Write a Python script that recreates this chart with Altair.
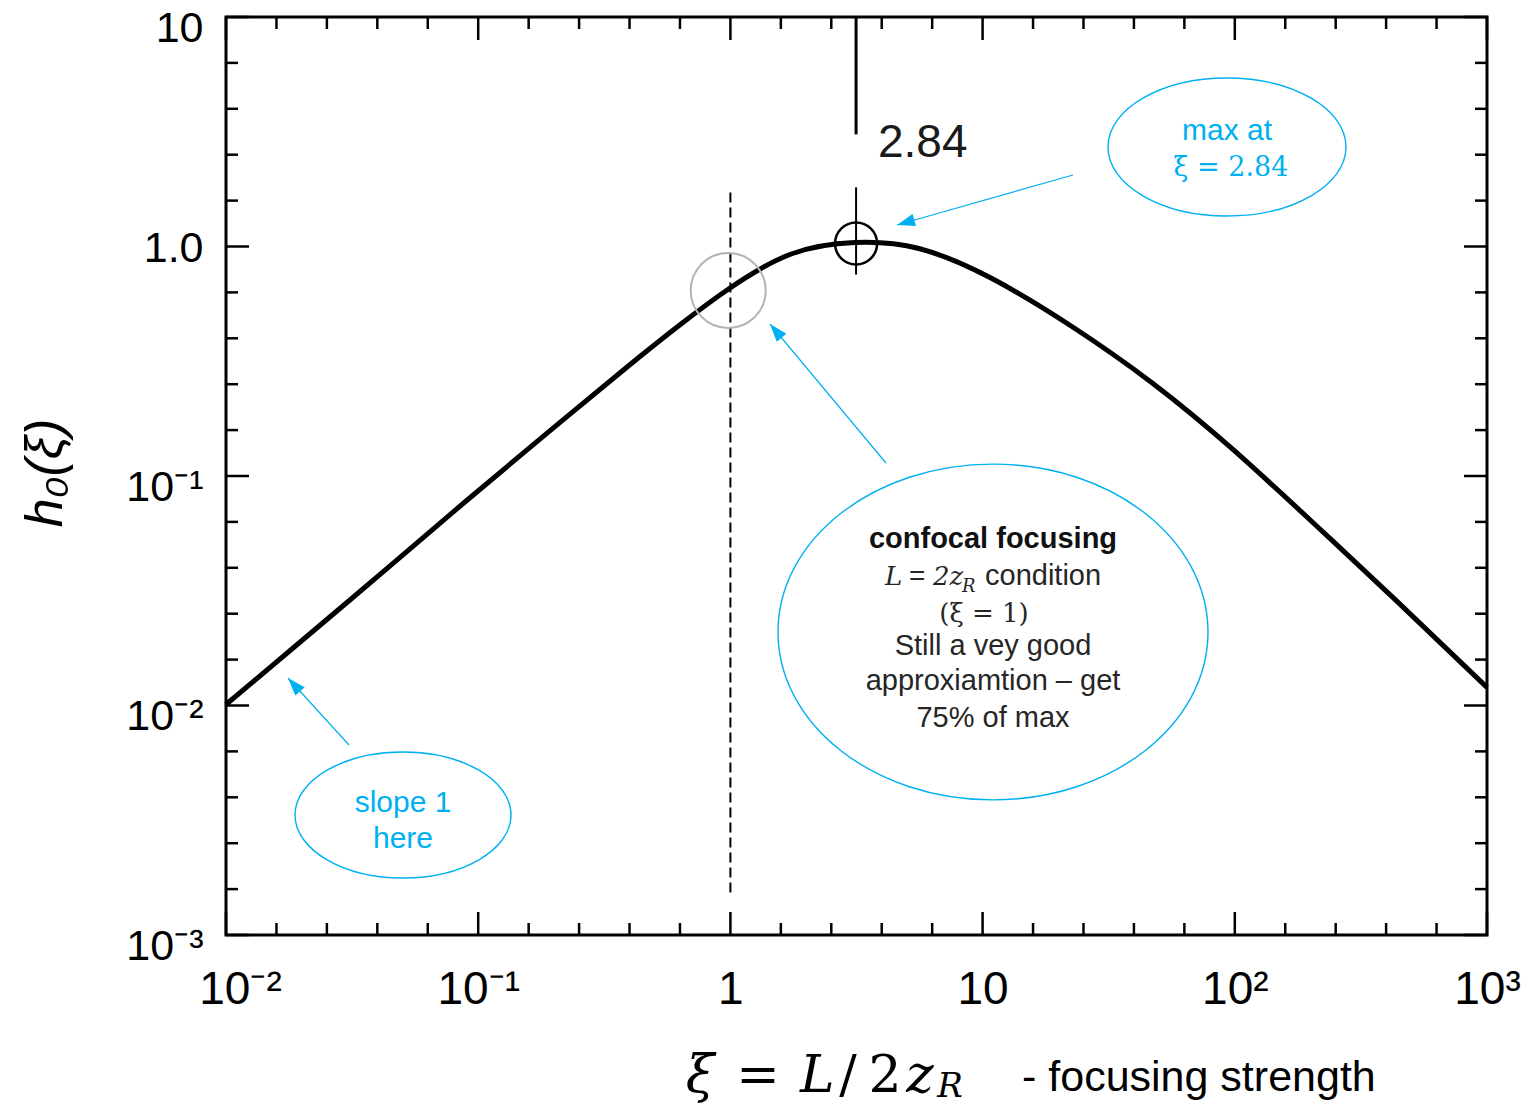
import json
import pandas as pd
import altair as alt

# ---------------- data ----------------
XI = [0.01, 0.0198, 0.0439, 0.0910, 0.1907, 0.396, 0.637, 0.977, 1.722, 3.116, 5.59,
      10.89, 22.6, 47.35, 98.3, 205.9, 427.4, 1000]
H0 = [0.0101, 0.0190, 0.0399, 0.0790, 0.1562, 0.3031, 0.4595, 0.650, 0.923, 1.041, 0.980,
      0.725, 0.448, 0.253, 0.1305, 0.0621, 0.0293, 0.0120]

X_MAJOR = [0.01, 0.1, 1, 10, 100, 1000]
X_TICK_LABELS = ["10⁻²", "10⁻¹", "1", "10", "10²", "10³"]
Y_MAJOR = [0.001, 0.01, 0.1, 1, 10]
Y_TICK_LABELS = ["10⁻³", "10⁻²", "10⁻¹", "1.0", "10"]
MINOR_FACTORS = [1.585, 2.512, 3.981, 6.310]   # four evenly spaced (in log) minor ticks per decade

MAX_MARK_XI = 3.15          # where the max marker sits in the picture
MAX_MARK_H = 1.03
MAX_LABEL = "2.84"
TOP_LINE_H = [10, 3.08]
CROSS_LINE_H = [1.81, 0.755]
CONFOCAL_XI = 1.0
DASH_H = [1.72, 0.0015]
GRAY_CIRCLE_XI = 0.98
GRAY_CIRCLE_H = 0.643

# ---------------- layout ----------------
W, H = 1261, 918
OX, OY = 226, 17
SANS = "Liberation Sans"
SERIF = "DejaVu Serif"
BLUE = "#00B0F0"
DARK = "#262626"

X_MINOR = [d * f for d in X_MAJOR[:-1] for f in MINOR_FACTORS]
Y_MINOR = [d * f for d in Y_MAJOR[:-1] for f in MINOR_FACTORS]

xs = alt.Scale(type="log", domain=[0.01, 1000], nice=False)
ys = alt.Scale(type="log", domain=[0.001, 10], nice=False)

x_axis = alt.Axis(
    values=X_MAJOR,
    labelExpr=json.dumps(X_TICK_LABELS, ensure_ascii=False) + "[round(log(datum.value)/LN10)+2]",
    title=None, ticks=False, tickSize=0, domain=False, grid=False,
    labelFont=SANS, labelFontSize=46, labelColor="black",
    labelPadding=68, labelBaseline="alphabetic", labelAlign="center",
    labelOffset={"condition": {"test": "datum.value < 0.05", "value": 14}, "value": 0},
    labelFlush=False, labelOverlap=False,
)
y_axis = alt.Axis(
    values=Y_MAJOR,
    labelExpr=json.dumps(Y_TICK_LABELS, ensure_ascii=False) + "[round(log(datum.value)/LN10)+3]",
    title=None, ticks=False, tickSize=0, domain=False, grid=False,
    labelFont=SANS, labelFontSize=43, labelColor="black",
    labelPadding=23, labelBaseline="alphabetic", labelAlign="right",
    labelOffset={"condition": {"test": "datum.value > 0.5 && datum.value < 2", "value": 15}, "value": 24},
    labelFlush=False, labelOverlap=False,
)

X = lambda f: alt.X(f, scale=xs, axis=x_axis)
Y = lambda f: alt.Y(f, scale=ys, axis=y_axis)
one = pd.DataFrame({"k": [0]})
layers = []

# ---------------- curve ----------------
curve_df = pd.DataFrame({"xi": XI, "h": H0})
layers.append(
    alt.Chart(curve_df).mark_line(color="black", strokeWidth=5, interpolate="natural")
    .encode(x=X("xi:Q"), y=Y("h:Q"))
)

# ---------------- inward ticks on all four sides ----------------
MAJ, MIN = 23, 12
for vals, ln in ((X_MAJOR, MAJ), (X_MINOR, MIN)):
    df = pd.DataFrame({"v": vals})
    layers.append(alt.Chart(df).mark_rule(color="black", strokeWidth=2.5)
                  .encode(x=X("v:Q"), y=alt.value(H), y2=alt.value(H - ln)))
    layers.append(alt.Chart(df).mark_rule(color="black", strokeWidth=2.5)
                  .encode(x=X("v:Q"), y=alt.value(0), y2=alt.value(ln)))
for vals, ln in ((Y_MAJOR, MAJ), (Y_MINOR, MIN)):
    df = pd.DataFrame({"v": vals})
    layers.append(alt.Chart(df).mark_rule(color="black", strokeWidth=2.5)
                  .encode(y=Y("v:Q"), x=alt.value(0), x2=alt.value(ln)))
    layers.append(alt.Chart(df).mark_rule(color="black", strokeWidth=2.5)
                  .encode(y=Y("v:Q"), x=alt.value(W), x2=alt.value(W - ln)))

# ---------------- marker lines and circles ----------------
layers.append(
    alt.Chart(pd.DataFrame({"xi": [MAX_MARK_XI], "a": [TOP_LINE_H[0]], "b": [TOP_LINE_H[1]]}))
    .mark_rule(color="black", strokeWidth=3)
    .encode(x=X("xi:Q"), y=Y("a:Q"), y2="b:Q")
)
layers.append(
    alt.Chart(pd.DataFrame({"xi": [MAX_MARK_XI], "a": [CROSS_LINE_H[0]], "b": [CROSS_LINE_H[1]]}))
    .mark_rule(color="black", strokeWidth=2)
    .encode(x=X("xi:Q"), y=Y("a:Q"), y2="b:Q")
)
layers.append(
    alt.Chart(pd.DataFrame({"xi": [CONFOCAL_XI], "a": [DASH_H[0]], "b": [DASH_H[1]]}))
    .mark_rule(color="black", strokeWidth=2, strokeDash=[10, 5])
    .encode(x=X("xi:Q"), y=Y("a:Q"), y2="b:Q")
)
layers.append(
    alt.Chart(pd.DataFrame({"xi": [MAX_MARK_XI], "h": [MAX_MARK_H]}))
    .mark_point(shape="circle", size=42 * 42, filled=False, stroke="black", strokeWidth=2.5, opacity=1)
    .encode(x=X("xi:Q"), y=Y("h:Q"))
)
layers.append(
    alt.Chart(pd.DataFrame({"xi": [GRAY_CIRCLE_XI], "h": [GRAY_CIRCLE_H]}))
    .mark_point(shape="circle", size=75 * 75, filled=False, stroke="#b4b4b4", strokeWidth=2, opacity=1)
    .encode(x=X("xi:Q"), y=Y("h:Q"))
)

# ---------------- callout ellipses ----------------
def ellipse(cx, cy, rx, ry):
    r = ry / rx
    path = f"M-1,0A1,{r:.3f},0,1,1,1,0A1,{r:.3f},0,1,1,-1,0Z"
    return (alt.Chart(one)
            .mark_point(shape=path, size=(2 * rx) ** 2, filled=False, stroke=BLUE,
                        strokeWidth=1.4, opacity=1)
            .encode(x=alt.value(cx - OX), y=alt.value(cy - OY)))

layers.append(ellipse(1227, 147, 119, 69))
layers.append(ellipse(993, 632, 215, 168))
layers.append(ellipse(403, 815, 108, 63))

# ---------------- arrows ----------------
HEAD = "M0,0L-0.35,1L0.35,1Z"
ARROWS = [  # tail x, tail y, tip x, tip y, angle
    (1073, 175, 897, 225, 254),
    (886, 463, 770, 324, 320),
    (349, 745, 288, 678, 318),
]
for tx, ty, hx, hy, ang in ARROWS:
    layers.append(alt.Chart(one).mark_rule(color=BLUE, strokeWidth=1.2)
                  .encode(x=alt.value(tx - OX), y=alt.value(ty - OY),
                          x2=alt.value(hx - OX), y2=alt.value(hy - OY)))
    layers.append(alt.Chart(one).mark_point(shape=HEAD, size=36 * 36, filled=True, color=BLUE,
                                            opacity=1, angle=ang, strokeWidth=0)
                  .encode(x=alt.value(hx - OX), y=alt.value(hy - OY)))

# ---------------- texts (page x, baseline y) ----------------
TEXTS = [
    dict(t=MAX_LABEL, x=878, y=157, font=SANS, size=46, color="#1a1a1a", align="left"),
    dict(t="max at", x=1227, y=140, font=SANS, size=30, color=BLUE),
    dict(t="ξ = 2.84", x=1231, y=176, font=SERIF, size=27, color=BLUE),
    dict(t="slope 1", x=403, y=812, font=SANS, size=30, color=BLUE),
    dict(t="here", x=403, y=848, font=SANS, size=30, color=BLUE),
    dict(t="confocal focusing", x=993, y=548, font=SANS, size=29, color="#111111", weight="bold"),
    dict(t="L", x=885, y=585, font=SERIF, size=26, color=DARK, align="left", style="italic"),
    dict(t="=", x=909, y=585, font=SANS, size=28, color=DARK, align="left"),
    dict(t="2z", x=933, y=585, font=SERIF, size=26, color=DARK, align="left", style="italic"),
    dict(t="R", x=962, y=592, font=SERIF, size=18, color=DARK, align="left", style="italic"),
    dict(t="condition", x=985, y=585, font=SANS, size=29, color=DARK, align="left"),
    dict(t="(ξ = 1)", x=984, y=622, font=SERIF, size=26, color=DARK),
    dict(t="Still a vey good", x=993, y=655, font=SANS, size=29, color=DARK),
    dict(t="approxiamtion – get", x=993, y=690, font=SANS, size=29, color=DARK),
    dict(t="75% of max", x=993, y=727, font=SANS, size=29, color=DARK),
    # x-axis title
    dict(t="ξ", x=700, y=1092, font=SERIF, size=52, color="black", style="italic"),
    dict(t="=", x=758, y=1092, font=SERIF, size=52, color="black"),
    dict(t="L", x=800, y=1092, font=SERIF, size=52, color="black", align="left", style="italic"),
    dict(t="/", x=848, y=1092, font=SERIF, size=52, color="black"),
    dict(t="2", x=885, y=1092, font=SERIF, size=52, color="black"),
    dict(t="z", x=920, y=1092, font=SERIF, size=52, color="black", style="italic"),
    dict(t="R", x=950, y=1097, font=SERIF, size=34, color="black", style="italic"),
    dict(t="- focusing strength", x=1022, y=1091, font=SANS, size=43, color="black", align="left"),
]
for d in TEXTS:
    kw = dict(text=d["t"], font=d["font"], fontSize=d["size"], color=d["color"],
              align=d.get("align", "center"), baseline="alphabetic")
    if "style" in d:
        kw["fontStyle"] = d["style"]
    if "weight" in d:
        kw["fontWeight"] = d["weight"]
    layers.append(alt.Chart(one).mark_text(**kw)
                  .encode(x=alt.value(d["x"] - OX), y=alt.value(d["y"] - OY)))

# y-axis title (rotated)
layers.append(alt.Chart(one).mark_text(text="h₀(ξ)", font=SANS, fontSize=52, fontStyle="italic",
                                       color="black", angle=270, align="center", baseline="middle")
              .encode(x=alt.value(46 - OX), y=alt.value(473 - OY)))

chart = (
    alt.layer(*layers)
    .properties(width=W, height=H,
                padding={"left": OX, "top": OY, "right": 1529 - OX - W, "bottom": 1106 - OY - H},
                autosize=alt.AutoSizeParams(type="none"), background="white")
    .configure_view(stroke="black", strokeWidth=3)
)

chart.save("out.html", embed_options={"renderer": "svg", "actions": False})
